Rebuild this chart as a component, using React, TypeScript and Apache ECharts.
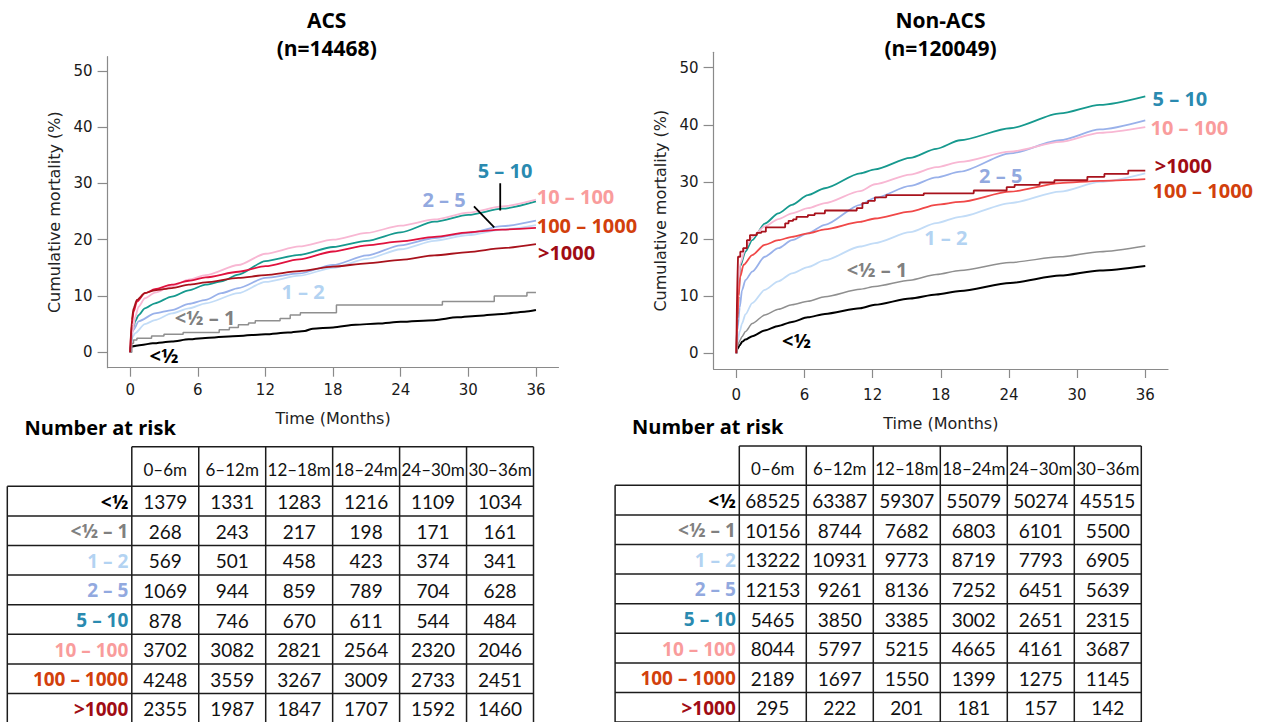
import React, { useEffect, useRef } from "react";
import * as echarts from "echarts";

// ---------- data ----------
const xTicks = [0, 6, 12, 18, 24, 30, 36];
const yTicks = [0, 10, 20, 30, 40, 50];
const groups = ["<½", "<½ – 1", "1 – 2", "2 – 5", "5 – 10", "10 – 100", "100 – 1000", ">1000"];
const periods = ["0–6m", "6–12m", "12–18m", "18–24m", "24–30m", "30–36m"];

const acsTitle = ["ACS", "(n=14468)"];
const nonAcsTitle = ["Non-ACS", "(n=120049)"];

const acsRisk = [
  [1379, 1331, 1283, 1216, 1109, 1034],
  [268, 243, 217, 198, 171, 161],
  [569, 501, 458, 423, 374, 341],
  [1069, 944, 859, 789, 704, 628],
  [878, 746, 670, 611, 544, 484],
  [3702, 3082, 2821, 2564, 2320, 2046],
  [4248, 3559, 3267, 3009, 2733, 2451],
  [2355, 1987, 1847, 1707, 1592, 1460],
];
const nonAcsRisk = [
  [68525, 63387, 59307, 55079, 50274, 45515],
  [10156, 8744, 7682, 6803, 6101, 5500],
  [13222, 10931, 9773, 8719, 7793, 6905],
  [12153, 9261, 8136, 7252, 6451, 5639],
  [5465, 3850, 3385, 3002, 2651, 2315],
  [8044, 5797, 5215, 4665, 4161, 3687],
  [2189, 1697, 1550, 1399, 1275, 1145],
  [295, 222, 201, 181, 157, 142],
];

// cumulative mortality (%) by month — ACS
const acsLt05 = [[0, 0], [0.05, 1.0], [1, 1.3], [2, 1.6], [3.7, 1.9], [5.2, 2.3], [7, 2.6], [9.6, 2.9], [12, 3.2], [14, 3.5], [15.5, 3.8], [16.2, 4.2], [18, 4.4], [20, 4.9], [22, 5.1], [24, 5.4], [27, 5.7], [29, 6.2], [31, 6.5], [33, 6.8], [35, 7.2], [36, 7.5]];
const acs05to1 = [[0, 0], [0.15, 1.6], [0.3, 2.2], [0.6, 2.5], [1.9, 2.9], [3, 3.2], [4.7, 3.5], [7.9, 4.0], [8.8, 4.4], [9.6, 4.9], [10.5, 5.2], [11.1, 5.6], [13.3, 6.0], [14.2, 6.6], [15.1, 7.0], [18.3, 8.4], [27.7, 9.0], [32.3, 10.0], [35.2, 10.6], [36, 10.6]];
const acs1to2 = [[0, 0], [0.15, 2.5], [0.45, 3.4], [1.3, 5.0], [2.2, 5.7], [3.7, 6.9], [5.2, 7.8], [6.7, 8.7], [9.6, 10.5], [12, 12.5], [15, 13.6], [18, 15.0], [21, 16.6], [24, 18.3], [27, 19.8], [30, 20.8], [33, 21.8], [36, 22.6]];
const acs2to5 = [[0, 0], [0.3, 4.0], [0.75, 5.5], [2.2, 6.9], [3.7, 7.5], [5.2, 8.6], [6.7, 9.3], [8.1, 10.5], [9.6, 11.4], [12, 13.2], [15, 14.0], [18, 15.5], [21, 17.2], [24, 19.0], [27, 20.3], [30, 21.2], [33, 22.4], [36, 23.4]];
const acs5to10 = [[0, 0], [0.3, 4.5], [0.45, 5.5], [0.75, 6.6], [1.3, 7.8], [2.2, 8.7], [3.7, 9.9], [5.2, 11.0], [6.7, 12.0], [8.1, 12.6], [9.6, 13.8], [12, 16.2], [15, 17.3], [18, 18.7], [21, 19.8], [24, 21.3], [27, 23.2], [30, 24.4], [33, 25.5], [36, 26.8]];
const acs10to100 = [[0, 0], [0.2, 3.5], [0.45, 6.3], [0.75, 8.1], [1.3, 9.6], [2.2, 10.6], [3.7, 11.7], [5.2, 12.9], [6.7, 13.7], [9.6, 15.5], [12, 17.5], [15, 18.8], [18, 20.0], [21, 21.2], [24, 22.5], [27, 23.6], [30, 24.8], [33, 25.9], [36, 27.1]];
const acs100to1000 = [[0, 0], [0.15, 5.0], [0.3, 7.2], [0.6, 9.0], [1.3, 10.5], [2.2, 11.2], [3.7, 12.0], [5.2, 12.7], [6.7, 13.3], [9.6, 14.3], [12, 15.3], [15, 16.5], [18, 17.9], [21, 19.0], [24, 19.7], [27, 20.5], [30, 21.3], [33, 21.8], [36, 22.1]];
const acsGt1000 = [[0, 0], [0.15, 5.7], [0.3, 7.8], [0.6, 9.3], [1.3, 10.5], [2.2, 11.0], [3.7, 11.4], [5.2, 12.0], [6.7, 12.4], [9.6, 13.2], [12, 13.7], [15, 14.4], [18, 15.2], [21, 15.8], [24, 16.4], [27, 17.2], [30, 17.8], [33, 18.5], [36, 19.2]];

// cumulative mortality (%) by month — Non-ACS
const nonLt05 = [[0, 0], [0.1, 0.8], [0.3, 1.4], [0.5, 2.0], [0.8, 2.4], [1.4, 3.0], [2.5, 4.0], [3.7, 4.8], [4.9, 5.5], [6.3, 6.3], [7.8, 6.9], [10.9, 7.9], [12.2, 8.5], [15.3, 9.6], [17.6, 10.3], [19.7, 10.9], [24.1, 12.3], [28.5, 13.6], [32, 14.5], [36, 15.3]];
const non05to1 = [[0, 0], [0.1, 1.2], [0.3, 2.2], [0.5, 2.9], [0.8, 3.8], [1.4, 5.2], [2.5, 6.7], [3.7, 7.7], [4.9, 8.5], [6.3, 9.1], [7.8, 9.9], [10.9, 11.2], [12.2, 11.7], [15.3, 12.8], [17.6, 13.8], [19.7, 14.5], [24.1, 15.9], [28.5, 16.9], [32, 17.8], [36, 18.8]];
const non1to2 = [[0, 0], [0.1, 2.0], [0.3, 3.8], [0.5, 5.2], [0.8, 6.8], [1.4, 8.8], [2.5, 11.1], [3.7, 12.6], [4.9, 14.0], [6.3, 15.1], [7.8, 16.3], [10.9, 18.7], [12.2, 19.3], [15.3, 21.2], [17.6, 22.8], [19.7, 23.9], [24.1, 26.3], [28.5, 28.3], [32, 30.0], [36, 31.5]];
const non2to5 = [[0, 0], [0.1, 4.0], [0.3, 8.0], [0.5, 11.0], [0.8, 12.8], [1.4, 14.3], [2.5, 16.9], [3.7, 18.4], [4.9, 19.8], [6.3, 21.0], [7.8, 22.5], [10.9, 26.0], [12.2, 27.2], [15.3, 29.3], [17.6, 30.8], [19.7, 31.8], [24.1, 35.0], [28.5, 37.3], [32, 39.2], [36, 40.8]];
const non5to10 = [[0, 0], [0.1, 6.0], [0.2, 10.0], [0.34, 15.2], [0.8, 17.8], [1.4, 19.8], [2.5, 22.7], [3.7, 24.5], [4.9, 26.0], [6.3, 27.7], [7.8, 28.9], [10.9, 31.5], [12.2, 32.2], [15.3, 34.2], [17.6, 35.8], [19.7, 37.3], [24.1, 39.4], [28.5, 42.0], [32, 43.5], [36, 45.0]];
const non10to100 = [[0, 0], [0.1, 7.0], [0.2, 11.0], [0.34, 15.7], [0.8, 18.4], [1.4, 20.4], [2.5, 22.2], [3.7, 23.5], [4.9, 24.5], [6.3, 25.4], [7.8, 26.3], [10.9, 28.4], [12.2, 29.6], [15.3, 31.3], [17.6, 32.6], [19.7, 33.5], [24.1, 35.3], [28.5, 37.0], [32, 38.6], [36, 39.6]];
const non100to1000 = [[0, 0], [0.1, 6.0], [0.2, 10.0], [0.34, 13.4], [0.64, 15.5], [1.4, 17.2], [2.5, 19.0], [3.7, 19.8], [4.9, 20.4], [6.3, 21.0], [7.8, 21.7], [10.9, 23.0], [12.2, 23.6], [15.3, 24.8], [17.6, 26.0], [19.7, 26.5], [24.1, 28.3], [28.5, 29.8], [32, 30.2], [36, 30.5]];
const nonGt1000 = [[0, 0], [0.05, 8], [0.1, 13], [0.15, 16.9], [0.35, 17.8], [0.6, 18.4], [0.93, 19.8], [1.2, 20.7], [1.8, 21.1], [2.2, 21.3], [2.6, 22.05], [4.3, 22.75], [4.6, 23.2], [5.0, 23.45], [5.3, 23.9], [6.3, 24.2], [6.9, 24.5], [7.8, 25.0], [10.6, 25.4], [11.1, 26.3], [11.6, 26.7], [12.2, 27.3], [13.2, 27.7], [16.5, 28.0], [20.9, 28.5], [23.8, 29.1], [24.5, 29.5], [26.7, 29.9], [28.0, 30.3], [30.9, 30.9], [32.4, 31.4], [34.5, 32.0], [36, 32.0]];

// leader lines for the ACS labels (data coordinates)
const acsLeader5to10 = [[32.83, 30.0], [32.83, 25.2]];
const acsLeader2to5 = [[30.5, 25.9], [32.3, 22.2]];

const acsCurves = [acsLt05, acs05to1, acs1to2, acs2to5, acs5to10, acs10to100, acs100to1000, acsGt1000];
const nonCurves = [nonLt05, non05to1, non1to2, non2to5, non5to10, non10to100, non100to1000, nonGt1000];
const acsStepped = [false, true, false, false, false, false, false, false];
const nonStepped = [false, false, false, false, false, false, false, true];

// ---------- styles ----------
const acsLineColors = ["#000000", "#8f8f8f", "#c2dcf7", "#99b1ea", "#16998e", "#f8b7d3", "#e0123e", "#a8121c"];
const nonLineColors = ["#000000", "#8f8f8f", "#c2dcf7", "#99b1ea", "#16998e", "#f8b7d3", "#f04848", "#a8121c"];
const labelColors = ["#000000", "#808080", "#b3d3f2", "#92a9df", "#2a8ab0", "#f99c9c", "#d2400c", "#a00c14"];
const lineWidths = [2, 1.5, 1.8, 1.8, 1.8, 1.8, 1.8, 1.8];

const LABEL_FONT = 'bold 20px "Open Sans", "DejaVu Sans", sans-serif';
const TITLE_FONT = 'bold 21px "Open Sans", "DejaVu Sans", sans-serif';
const AXIS_FONT = '"DejaVu Sans", Verdana, sans-serif';
const TABLE_FONT = 'Lato, "DejaVu Sans", sans-serif';

// chart label placement [x, y, align] (pixels), per group index
const acsLabelPos: [number, number, string][] = [
  [164, 355, "center"], [205, 317.5, "center"], [303, 291.7, "center"], [444, 199.7, "center"],
  [505, 170, "center"], [536.7, 196.7, "left"], [536.7, 225.8, "left"], [538, 252.5, "left"],
];
const nonLabelPos: [number, number, string][] = [
  [796.4, 340, "center"], [877, 269, "center"], [945.8, 237.5, "center"], [1000.7, 175.5, "center"],
  [1152.6, 98.3, "left"], [1150.5, 127.8, "left"], [1152.6, 190.5, "left"], [1154.7, 165.5, "left"],
];

const acsTable = { labelLeft: 7.3, dataLeft: 131.8, colW: 66.95, headerTop: 446.7, headerH: 39.6, rowH: 29.6 };
const nonTable = { labelLeft: 615.1, dataLeft: 739.3, colW: 67.0, headerTop: 446, headerH: 39.3, rowH: 29.6 };

let measureCtx: CanvasRenderingContext2D | null = null;
function measure(text: string, font: string): number {
  if (!measureCtx) measureCtx = document.createElement("canvas").getContext("2d");
  if (!measureCtx) return 0;
  measureCtx.font = font;
  return measureCtx.measureText(text).width;
}

function tableGraphics(tb: typeof acsTable, risk: number[][]) {
  const els: any[] = [];
  const right = tb.dataLeft + periods.length * tb.colW;
  const bodyTop = tb.headerTop + tb.headerH;
  const bottom = bodyTop + groups.length * tb.rowH;
  const ls = { stroke: "#1c1c1c", lineWidth: 1.5 };
  els.push({ type: "line", shape: { x1: tb.dataLeft, y1: tb.headerTop, x2: right, y2: tb.headerTop }, style: ls });
  for (let r = 0; r <= groups.length; r++) {
    const y = bodyTop + r * tb.rowH;
    els.push({ type: "line", shape: { x1: tb.labelLeft, y1: y, x2: right, y2: y }, style: ls });
  }
  els.push({ type: "line", shape: { x1: tb.labelLeft, y1: bodyTop, x2: tb.labelLeft, y2: bottom }, style: ls });
  for (let c = 0; c <= periods.length; c++) {
    const x = tb.dataLeft + c * tb.colW;
    els.push({ type: "line", shape: { x1: x, y1: tb.headerTop, x2: x, y2: bottom }, style: ls });
  }
  const headFont = `17px ${TABLE_FONT}`;
  periods.forEach((p, c) => {
    const w = measure(p, headFont);
    const maxW = tb.colW - 1;
    const s = w > maxW ? maxW / w : 1;
    els.push({
      type: "text", x: tb.dataLeft + (c + 0.5) * tb.colW, y: tb.headerTop + tb.headerH * 0.58, scaleX: s,
      style: { text: p, font: headFont, fill: "#111", textAlign: "center", textVerticalAlign: "middle" },
    });
  });
  groups.forEach((g, r) => {
    const yc = bodyTop + (r + 0.5) * tb.rowH + 0.5;
    els.push({
      type: "text", x: tb.dataLeft - 3.5, y: yc,
      style: { text: g, font: 'bold 19px "Open Sans", "DejaVu Sans", sans-serif', fill: labelColors[r], textAlign: "right", textVerticalAlign: "middle" },
    });
    risk[r].forEach((v, c) => {
      els.push({
        type: "text", x: tb.dataLeft + (c + 0.5) * tb.colW, y: yc,
        style: { text: String(v), font: `19px ${TABLE_FONT}`, fill: "#111", textAlign: "center", textVerticalAlign: "middle" },
      });
    });
  });
  return els;
}

function axisPair(idx: number, ymin: number, ymax: number, xMargin: number) {
  const axisLine = { onZero: false, lineStyle: { color: "#8a8a8a", width: 1.2 } };
  const tickStyle = { color: "#8a8a8a", width: 1.2 };
  const nameStyle = { fontFamily: AXIS_FONT, fontSize: 16, color: "#222" };
  const x = {
    gridIndex: idx, type: "value", min: -2, max: 38,
    axisLine, axisTick: { show: true, customValues: xTicks, length: 9, lineStyle: tickStyle },
    axisLabel: { customValues: xTicks, margin: xMargin, fontFamily: AXIS_FONT, fontSize: 15, color: "#1a1a1a" },
    splitLine: { show: false },
    name: "Time (Months)", nameLocation: "middle", nameGap: idx === 0 ? 43 : 46, nameTextStyle: nameStyle,
  };
  const y = {
    gridIndex: idx, type: "value", min: ymin, max: ymax,
    axisLine, axisTick: { show: true, customValues: yTicks, length: 10, lineStyle: tickStyle },
    axisLabel: { customValues: yTicks, margin: 15, fontFamily: AXIS_FONT, fontSize: 15, color: "#1a1a1a" },
    splitLine: { show: false },
    name: "Cumulative mortality (%)", nameLocation: "middle", nameGap: 45, nameRotate: 90, nameTextStyle: nameStyle,
  };
  return { x, y };
}

function curveSeries(curves: number[][][], stepped: boolean[], colors: string[], idx: number) {
  return curves.map((d, i) => ({
    type: "line", xAxisIndex: idx, yAxisIndex: idx, data: d, symbol: "none", showSymbol: false, silent: true,
    step: stepped[i] ? "end" : false,
    smooth: stepped[i] ? false : 0.25, smoothMonotone: "x",
    lineStyle: { color: colors[i], width: lineWidths[i] },
    z: 2 + i,
  }));
}

function labelGraphics(pos: [number, number, string][]) {
  return groups.map((g, i) => ({
    type: "text", x: pos[i][0], y: pos[i][1],
    style: { text: g, font: LABEL_FONT, fill: labelColors[i], textAlign: pos[i][2], textVerticalAlign: "middle" },
  }));
}

function titleGraphics(lines: string[], cx: number) {
  return lines.map((t, i) => ({
    type: "text", x: cx, y: i === 0 ? 20 : 47.5,
    style: { text: t, font: TITLE_FONT, fill: "#000", textAlign: "center", textVerticalAlign: "middle" },
  }));
}

export default function App() {
  const ref = useRef<HTMLDivElement>(null);
  useEffect(() => {
    if (!ref.current) return;
    const chart = echarts.init(ref.current, undefined, { renderer: "svg" });
    const a0 = axisPair(0, -2.74, 52.5, 15);
    const a1 = axisPair(1, -2.75, 52.7, 18);
    const leader = (d: number[][]) => ({
      type: "line", xAxisIndex: 0, yAxisIndex: 0, data: d, symbol: "none", silent: true,
      lineStyle: { color: "#000", width: 1.8 }, z: 20,
    });
    const option: any = {
      animation: false,
      backgroundColor: "#ffffff",
      grid: [
        { left: 107.6, top: 56.7, width: 450.9, height: 311, containLabel: false },
        { left: 713.6, top: 52.3, width: 454.4, height: 316.7, containLabel: false },
      ],
      xAxis: [a0.x, a1.x],
      yAxis: [a0.y, a1.y],
      series: [
        ...curveSeries(acsCurves, acsStepped, acsLineColors, 0),
        ...curveSeries(nonCurves, nonStepped, nonLineColors, 1),
        leader(acsLeader5to10),
        leader(acsLeader2to5),
      ],
      graphic: [
        ...titleGraphics(acsTitle, 326.7),
        ...titleGraphics(nonAcsTitle, 940.5),
        ...labelGraphics(acsLabelPos),
        ...labelGraphics(nonLabelPos),
        { type: "text", x: 24.5, y: 427, style: { text: "Number at risk", font: 'bold 20px "Open Sans", sans-serif', fill: "#000", textVerticalAlign: "middle" } },
        { type: "text", x: 632, y: 426.7, style: { text: "Number at risk", font: 'bold 20px "Open Sans", sans-serif', fill: "#000", textVerticalAlign: "middle" } },
        ...tableGraphics(acsTable, acsRisk),
        ...tableGraphics(nonTable, nonAcsRisk),
      ],
    };
    chart.setOption(option);
    return () => chart.dispose();
  }, []);
  return (
    <div
      ref={ref}
      style={{ position: "absolute", left: 0, top: 0, width: 1275, height: 722, background: "#fff" }}
    />
  );
}
